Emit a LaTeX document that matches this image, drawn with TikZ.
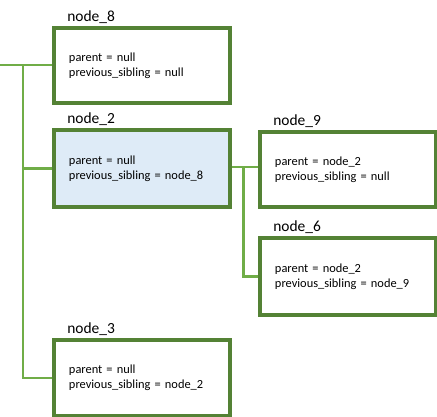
\documentclass[tikz,border=0pt]{standalone}
\usepackage{fontspec}
\setmainfont{Carlito}
\usetikzlibrary{backgrounds}
\definecolor{boxgreen}{HTML}{548235}
\definecolor{linegreen}{HTML}{70AD47}
\definecolor{boxblue}{HTML}{DEEBF7}
\tikzset{
  box/.style={draw=boxgreen, line width=3pt, fill=white, rectangle,
    anchor=north west, minimum width=132pt, inner xsep=11.25pt, inner ysep=0pt,
    text width=109.5pt, align=left, font=\fontsize{9.3}{11.25}\selectfont},
  title/.style={anchor=base west, inner sep=0pt, font=\fontsize{11.6}{13}\selectfont},
  conn/.style={draw=linegreen, line width=2.2pt}
}
\begin{document}
\begin{tikzpicture}[x=0.75pt, y=-0.75pt]
\useasboundingbox (0,0) rectangle (437,417);
\node[box, minimum height=56.25pt] (n8) at (52,26) {parent = null\\previous\_sibling = null};
\node[box, minimum height=57.75pt, fill=boxblue] (n2) at (52,128) {parent = null\\previous\_sibling = node\_8};
\node[box, minimum height=56.25pt] (n9) at (258,130) {parent = node\_2\\previous\_sibling = null};
\node[box, minimum height=57.75pt] (n6) at (258,236) {parent = node\_2\\previous\_sibling = node\_9};
\node[box, minimum height=57pt] (n3) at (52,338) {parent = null\\previous\_sibling = node\_2};
\node[title] (t8) at ([xshift=11.25pt, yshift=3.5pt]n8.north west) {node\_8};
\node[title] (t2) at ([xshift=11.25pt, yshift=3.5pt]n2.north west) {node\_2};
\node[title] (t9) at ([xshift=11.25pt, yshift=3.5pt]n9.north west) {node\_9};
\node[title] (t6) at ([xshift=11.25pt, yshift=3.5pt]n6.north west) {node\_6};
\node[title] (t3) at ([xshift=11.25pt, yshift=3.5pt]n3.north west) {node\_3};
\begin{scope}[on background layer]
\coordinate (root) at (0,65);
\coordinate (trunk) at (23,65);
\coordinate (fork) at (243.5,167);
\draw[conn] (root) -- (n8.west |- root);
\draw[conn] (trunk) |- (n3.west);
\draw[conn] (trunk |- n2.west) -- (n2.west);
\draw[conn] (n2.east |- fork) -- (n9.west |- fork);
\draw[conn] (fork) |- (n6.west);
\end{scope}
\end{tikzpicture}
\end{document}
